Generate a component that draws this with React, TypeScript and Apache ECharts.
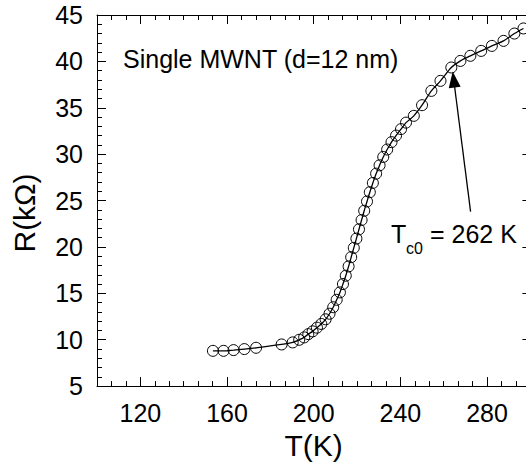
import React, { useEffect, useRef } from "react";
import * as echarts from "echarts";

// Temperature (K) and resistance (kΩ)
const temperatureK = [
  153.5, 158.4, 163.0, 168.0, 173.4, 185.2, 190.3, 193.3, 195.6, 197.5,
  199.5, 201.5, 203.5, 205.5, 207.3, 209.0, 210.6, 212.1, 213.5, 214.8,
  216.1, 217.3, 218.5, 219.7, 220.9, 222.1, 223.3, 224.6, 225.9, 227.3,
  228.8, 230.4, 232.1, 233.9, 235.9, 238.0, 240.3, 242.6, 246.2, 250.0,
  254.3, 258.5, 263.5, 267.7, 272.3, 277.3, 282.2, 287.6, 292.6, 296.8,
];
const resistanceKOhm = [
  8.8, 8.8, 8.88, 8.99, 9.13, 9.49, 9.71, 9.99, 10.25, 10.6,
  10.9, 11.3, 11.7, 12.2, 12.8, 13.5, 14.3, 15.1, 16.0, 16.9,
  17.9, 18.9, 19.9, 20.9, 21.9, 22.9, 23.9, 24.9, 25.9, 26.9,
  27.9, 28.8, 29.7, 30.5, 31.3, 32.0, 32.7, 33.4, 34.13, 35.28,
  36.82, 37.9, 39.34, 40.05, 40.6, 41.13, 41.67, 42.21, 43.0, 43.55,
];
const xMajorTicks = [120, 160, 200, 240, 280];
const arrowTail = [272.4, 23.8];
const arrowHead = [264.6, 38.05];

const FONT = "'Liberation Sans', Arial, sans-serif";

export default function App() {
  const ref = useRef<HTMLDivElement>(null);
  useEffect(() => {
    if (!ref.current) return;
    const chart = echarts.init(ref.current, null, { renderer: "svg" });
    const data = temperatureK.map((t, i) => [t, resistanceKOhm[i]]);
    const black = "#000";
    const common = {
      type: "value" as const,
      min: 100,
      max: 300,
      splitLine: { show: false },
      axisLine: { onZero: false, lineStyle: { color: black, width: 1 } },
    };
    chart.setOption({
      animation: false,
      backgroundColor: "#fff",
      grid: { left: 97, top: 15, width: 433.4, height: 371.7 },
      xAxis: [
        {
          ...common,
          position: "bottom",
          name: "T(K)",
          nameLocation: "middle",
          nameGap: 39,
          nameTextStyle: { fontSize: 30, color: black, fontFamily: FONT },
          axisTick: { inside: true, length: 9, customValues: xMajorTicks, lineStyle: { color: black } },
          axisLabel: { customValues: xMajorTicks, fontSize: 25, color: black, fontFamily: FONT, margin: 14 },
        },
        {
          ...common,
          position: "bottom",
          interval: 20 / 3,
          axisLine: { show: false, onZero: false },
          axisTick: { inside: true, length: 5, lineStyle: { color: black } },
          axisLabel: { show: false },
        },
        {
          ...common,
          position: "top",
          axisTick: { inside: true, length: 9, customValues: xMajorTicks, lineStyle: { color: black } },
          axisLabel: { show: false },
        },
        {
          ...common,
          position: "top",
          interval: 20 / 3,
          axisLine: { show: false, onZero: false },
          axisTick: { inside: true, length: 5, lineStyle: { color: black } },
          axisLabel: { show: false },
        },
      ],
      yAxis: [
        {
          type: "value",
          position: "left",
          min: 5,
          max: 45,
          interval: 5,
          splitLine: { show: false },
          axisLine: { show: true, onZero: false, lineStyle: { color: black } },
          axisTick: { show: true, inside: true, length: 9, lineStyle: { color: black } },
          minorTick: { show: true, splitNumber: 5, length: 5, lineStyle: { color: black } },
          minorSplitLine: { show: false },
          axisLabel: { fontSize: 25, color: black, fontFamily: FONT, margin: 14 },
        },
        {
          type: "value",
          position: "right",
          min: 5,
          max: 45,
          interval: 5,
          splitLine: { show: false },
          axisLine: { show: true, onZero: false, lineStyle: { color: black } },
          axisTick: { show: true, inside: true, length: 8, lineStyle: { color: black } },
          axisLabel: { show: false },
        },
      ],
      graphic: [
        {
          type: "text",
          x: 123,
          y: 59,
          style: { text: "Single MWNT (d=12 nm)", fontSize: 25, fontFamily: FONT, fill: black, align: "left", verticalAlign: "middle" },
        },
        {
          type: "text",
          x: 24,
          y: 213,
          rotation: Math.PI / 2,
          style: { text: "R(kΩ)", fontSize: 30, fontFamily: FONT, fill: black, align: "center", verticalAlign: "middle" },
        },
        {
          type: "text",
          x: 391,
          y: 234,
          style: { text: "T", fontSize: 25, fontFamily: FONT, fill: black, align: "left", verticalAlign: "middle" },
        },
        {
          type: "text",
          x: 406,
          y: 248,
          style: { text: "c0", fontSize: 16, fontFamily: FONT, fill: black, align: "left", verticalAlign: "middle" },
        },
        {
          type: "text",
          x: 430,
          y: 234,
          style: { text: "= 262 K", fontSize: 25, fontFamily: FONT, fill: black, align: "left", verticalAlign: "middle" },
        },
      ],
      series: [
        {
          type: "line",
          data,
          smooth: 0.3,
          symbol: "circle",
          symbolSize: 11,
          showAllSymbol: true,
          lineStyle: { color: black, width: 1.3 },
          itemStyle: { color: "transparent", borderColor: black, borderWidth: 1 },
          markLine: {
            silent: true,
            symbol: ["none", "triangle"],
            symbolSize: [12, 16],
            lineStyle: { color: black, width: 1.3, type: "solid" },
            label: { show: false },
            data: [[{ coord: arrowTail }, { coord: arrowHead }]],
          },
        },
      ],
    });
    return () => chart.dispose();
  }, []);
  return (
    <div style={{ position: "fixed", left: 0, top: 0, width: 526, height: 465, overflow: "hidden", background: "#fff" }}>
      <div ref={ref} style={{ width: 540, height: 465 }} />
    </div>
  );
}
